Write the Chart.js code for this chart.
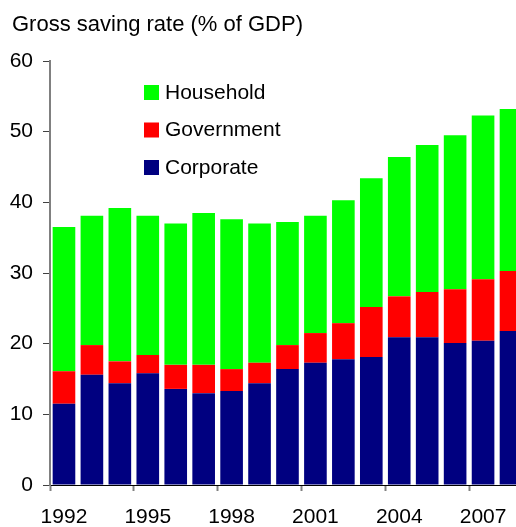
<!DOCTYPE html>
<html>
<head>
<meta charset="utf-8">
<script src="https://cdn.jsdelivr.net/npm/chart.js@4/dist/chart.umd.min.js"></script>
<style>
  html, body { margin: 0; padding: 0; overflow: hidden; background: #fff; width: 516px; height: 527px; }
  #title { position: absolute; left: 12px; top: 11px; font: 22px "Liberation Sans", Arial, sans-serif; line-height: 26px; color: #000; white-space: nowrap; z-index: 2; }
  #wrap { position: absolute; left: 0; top: 0; width: 525px; height: 527px; }
</style>
</head>
<body>
<div id="title">Gross saving rate (% of GDP)</div>
<div id="wrap"><canvas id="c"></canvas></div>
<script>
const years = ['1992','1993','1994','1995','1996','1997','1998','1999','2000','2001','2002','2003','2004','2005','2006','2007','2008'];
const corporate  = [11.5,15.6,14.4,15.8,13.6,13.0,13.3,14.4,16.4,17.3,17.8,18.1,20.9,20.9,20.1,20.4,21.8];
const government = [4.6,4.2,3.1,2.6,3.4,4.0,3.1,2.9,3.4,4.2,5.1,7.1,5.8,6.4,7.6,8.7,8.5];
const household  = [20.4,18.3,21.7,19.7,20.0,21.5,21.2,19.7,17.4,16.6,17.4,18.2,19.7,20.8,21.8,23.2,22.9];
const yTicks = [0,10,20,30,40,50,60];

const FONT = '"Liberation Sans", Arial, sans-serif';

const legendPlugin = {
  id: 'insideLegend',
  afterDraw(chart) {
    const ctx = chart.ctx;
    const ds = chart.data.datasets.slice().reverse();
    ctx.save();
    ctx.font = '21px ' + FONT;
    ctx.textBaseline = 'alphabetic';
    ctx.textAlign = 'left';
    ds.forEach((d, i) => {
      const by = 85 + i * 37.5;
      ctx.fillStyle = d.backgroundColor;
      ctx.fillRect(144, by, 15, 15);
      ctx.fillStyle = '#000';
      ctx.fillText(d.label, 165, by + 13.5);
    });
    ctx.restore();
  }
};

new Chart(document.getElementById('c'), {
  type: 'bar',
  data: {
    labels: years,
    datasets: [
      { label: 'Corporate', data: corporate, backgroundColor: '#000080' },
      { label: 'Government', data: government, backgroundColor: '#FF0000' },
      { label: 'Household', data: household, backgroundColor: '#00FF00' }
    ]
  },
  options: {
    responsive: true,
    maintainAspectRatio: false,
    animation: false,
    devicePixelRatio: 1,
    layout: { padding: { top: 61, left: 0, right: 0, bottom: 0 } },
    plugins: { legend: { display: false }, title: { display: false }, tooltip: { enabled: false } },
    datasets: { bar: { categoryPercentage: 1, barPercentage: 0.81, borderWidth: 0 } },
    scales: {
      x: {
        stacked: true,
        offset: true,
        afterFit(s) { s.height = 42; },
        grid: {
          offset: true,
          drawOnChartArea: false,
          tickLength: 6,
          tickWidth: 2,
          tickColor: (c) => (c.index % 3 === 0 ? '#808080' : 'rgba(0,0,0,0)')
        },
        border: { color: '#000', width: 1 },
        ticks: {
          autoSkip: false,
          maxRotation: 0,
          padding: 14,
          color: '#000',
          font: { family: FONT, size: 21 },
          callback: function(v, i) { return i % 3 === 0 ? years[i] : ''; }
        }
      },
      y: {
        stacked: true,
        min: 0,
        max: 60,
        afterFit(s) { s.width = 50; },
        afterBuildTicks(s) { s.ticks = yTicks.map(v => ({ value: v })); },
        grid: { drawOnChartArea: false, tickLength: 7, tickWidth: 1, tickColor: '#404040' },
        border: { color: '#808080', width: 2 },
        ticks: {
          padding: 10,
          color: '#000',
          font: { family: FONT, size: 21 }
        }
      }
    }
  },
  plugins: [legendPlugin]
});
</script>
</body>
</html>
